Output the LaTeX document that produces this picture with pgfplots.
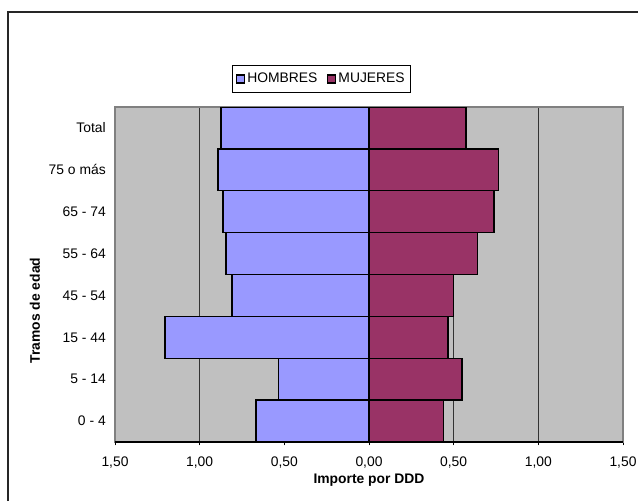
\documentclass[border=0pt]{standalone}
\usepackage{pgfplots}
\pgfplotsset{compat=1.18}
\usepackage{fontspec}
\setmainfont{Liberation Sans}
\definecolor{hom}{HTML}{9999FF}
\definecolor{muj}{HTML}{993366}
\definecolor{bggray}{HTML}{C0C0C0}
\definecolor{bordgray}{HTML}{808080}
\newcommand{\cf}{\fontsize{10.4}{12.4}\selectfont}
\begin{document}
\begin{tikzpicture}
\path[use as bounding box] (0,0) rectangle (478.5pt,375.75pt);
\draw[black!85, line width=1.1pt] (6pt,0pt) -- (6pt,366.75pt) -- (478.5pt,366.75pt);
\begin{axis}[
  at={(86.25pt,44.25pt)}, anchor=south west,
  scale only axis, width=381pt, height=251.25pt,
  xbar, bar shift=0pt, bar width=1,
  xmin=-1.5, xmax=1.5, ymin=-0.5, ymax=7.5,
  axis background/.style={fill=bggray},
  axis line style={draw=bordgray, line width=1.1pt},
  xtick={-1.5,-1,-0.5,0,0.5,1,1.5},
  xticklabels={{1,50},{1,00},{0,50},{0,00},{0,50},{1,00},{1,50}},
  ytick={0,1,2,3,4,5,6,7},
  yticklabels={0 - 4,5 - 14,15 - 44,45 - 54,55 - 64,65 - 74,75 o más,Total},
  tick pos=left,
  tick align=outside,
  x tick style={black, line width=0.6pt},
  major tick length=2.5pt,
  y tick style={draw=none},
  xmajorgrids, grid style={black!80, line width=0.6pt},
  tick label style={font=\cf},
  xticklabel style={inner sep=0pt, yshift=-8.5pt},
  yticklabel style={inner sep=0pt, xshift=-4.25pt},
  xlabel={Importe por DDD},
  ylabel={Tramos de edad},
  label style={font=\cf\bfseries},
  xlabel style={at={(axis description cs:0.5,-0.1134)}, anchor=center},
  ylabel style={at={(axis description cs:-0.1575,0.3925)}, anchor=center},
  legend columns=2,
  legend style={at={(axis description cs:0.4065,1.0836)}, anchor=center,
    draw=black, line width=0.75pt, font=\cf, inner xsep=2.5pt, inner ysep=3.5pt,
    /tikz/every even column/.append style={column sep=5pt}},
  legend image code/.code={\draw[#1, line width=0.8pt] (0pt,-3pt) rectangle (6pt,3pt);},
]
\addplot[draw=black, line width=1.1pt, fill=hom] coordinates {
  (-0.667,0) (-0.533,1) (-1.204,2) (-0.810,3) (-0.845,4) (-0.861,5) (-0.891,6) (-0.875,7)};
\addlegendentry{HOMBRES}
\addplot[draw=black, line width=1.1pt, fill=muj] coordinates {
  (0.441,0) (0.549,1) (0.466,2) (0.500,3) (0.641,4) (0.737,5) (0.765,6) (0.572,7)};
\addlegendentry{MUJERES}
\draw[black, line width=0.8pt] (rel axis cs:0,0) -- (rel axis cs:1,0);
\end{axis}
\end{tikzpicture}
\end{document}
